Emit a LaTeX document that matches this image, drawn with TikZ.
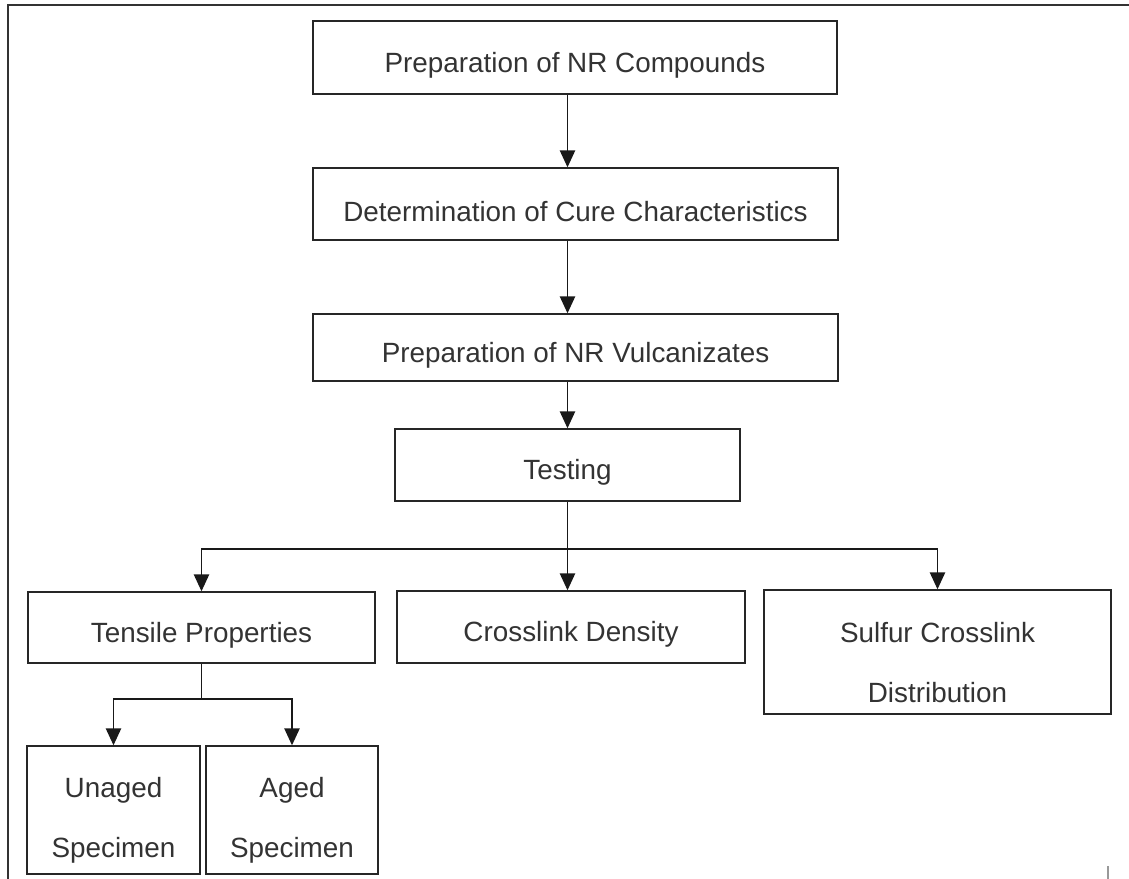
\documentclass[tikz,border=0pt]{standalone}
\usepackage{fontspec}
\setmainfont{Liberation Sans}
\usetikzlibrary{arrows.meta}

\begin{document}
\begin{tikzpicture}[x=0.025cm, y=-0.025cm,
  stage/.style={draw=black!85, line width=1pt, inner sep=0pt, align=center,
    text=black!80, text height=0.88cm, font=\fontsize{19.8}{42.7}\selectfont},
  twoline/.style={stage, text height=2.53cm},
  flow/.style={draw=black!90, line width=1pt, -{Triangle[length=0.42cm, width=0.38cm]}}]
  \useasboundingbox (0,0) rectangle (1129,879);
  \draw[line width=1pt, black!80] (8,879) -- (8,5) -- (1129,5);
  \draw[line width=1pt, black!40] (1108,866) -- (1108,879);

  \node[stage, minimum width=13.1cm, minimum height=1.825cm] (compounds) at (575,57.5) {Preparation of NR Compounds};
  \node[stage, minimum width=13.125cm, minimum height=1.8cm] (cure) at (575.5,204) {Determination of Cure Characteristics};
  \node[stage, minimum width=13.125cm, minimum height=1.675cm] (vulc) at (575.5,347.5) {Preparation of NR Vulcanizates};
  \node[stage, minimum width=8.625cm, minimum height=1.8cm] (testing) at (567.5,465) {Testing};
  \node[stage, minimum width=8.675cm, minimum height=1.775cm] (tensile) at (201.5,627.5) {Tensile Properties};
  \node[stage, minimum width=8.7cm, minimum height=1.8cm] (density) at (571,627) {Crosslink Density};
  \node[twoline, minimum width=8.675cm, minimum height=3.1cm] (sulfur) at (937.5,652) {Sulfur Crosslink\\Distribution};
  \node[twoline, minimum width=4.325cm, minimum height=3.2cm] (unaged) at (113.5,810) {Unaged\\Specimen};
  \node[twoline, minimum width=4.3cm, minimum height=3.2cm] (aged) at (292,810) {Aged\\Specimen};

  \coordinate (split) at (567.5,549);
  \coordinate (fork) at (201.5,699);

  \draw[flow] (compounds.south -| testing) -- (cure.north -| testing);
  \draw[flow] (cure.south -| testing) -- (vulc.north -| testing);
  \draw[flow] (vulc.south -| testing) -- (testing.north);
  \draw[flow] (testing.south) -- (testing.south |- density.north);
  \draw[flow] (split) -| (tensile.north);
  \draw[flow] (split) -| (sulfur.north);
  \draw[line width=1pt, black!90] (tensile.south) -- (fork);
  \draw[flow] (fork) -| (unaged.north);
  \draw[flow] (fork) -| (aged.north);
\end{tikzpicture}
\end{document}
